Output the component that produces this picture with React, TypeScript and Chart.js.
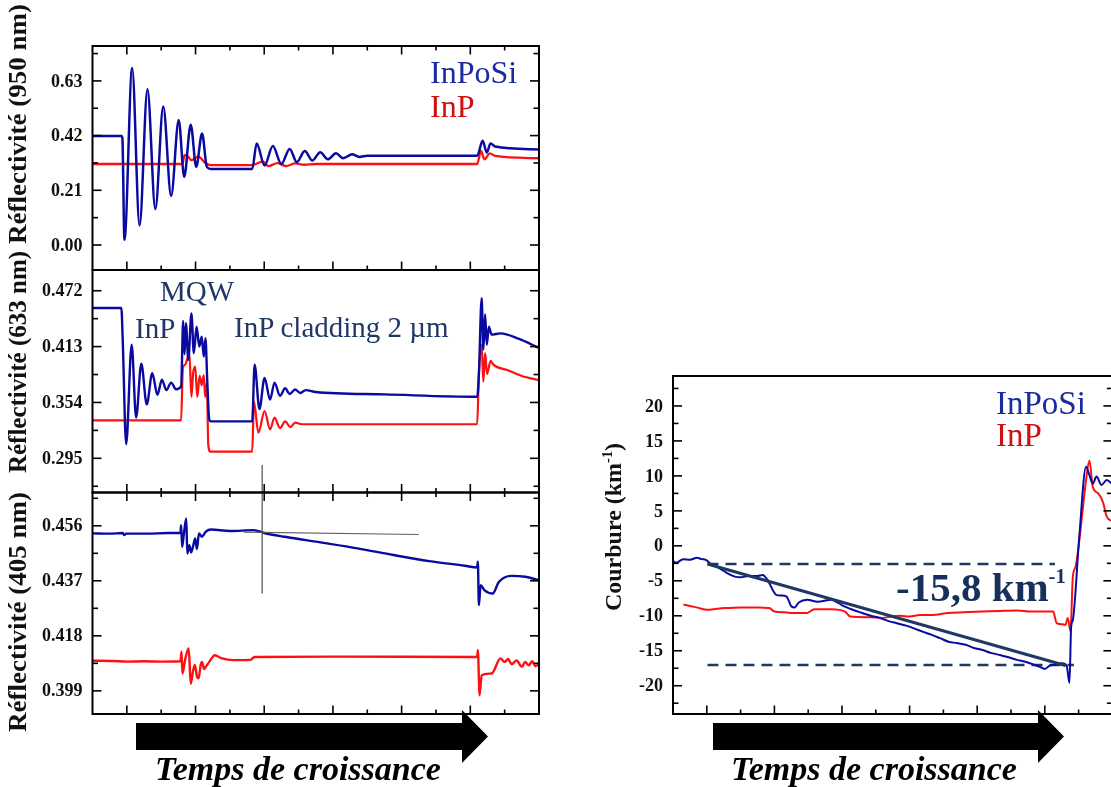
import React, { useEffect, useRef } from "react";
import { Chart, registerables } from "chart.js";

Chart.register(...registerables);

type Pt = [number, number];

// ---------- shared time axis (arbitrary growth-time units) ----------
const timeRange: Pt = [0, 13];
const timeMajorTicks = [1, 3, 5, 7, 9, 11];
const timeMinorTicks = [2, 4, 6, 8, 10, 12];

// ---------- panel 1 : reflectivity 950 nm ----------
const r950Range: Pt = [-0.096, 0.764];
const r950Ticks = [0, 0.21, 0.42, 0.63];
const r950TickLabels = ["0.00", "0.21", "0.42", "0.63"];
const r950Minor = [0.105, 0.315, 0.525, 0.735];
const r950InPoSi: Pt[] = [
  [0, 0.418], [0.84, 0.418], [0.87, 0.41], [0.93, 0.02], [1.155, 0.68], [1.37, 0.075],
  [1.6, 0.598], [1.83, 0.138], [2.06, 0.532], [2.29, 0.188], [2.51, 0.48], [2.67, 0.262],
  [2.86, 0.462], [3.02, 0.3], [3.19, 0.428], [3.33, 0.3], [3.45, 0.292], [4.65, 0.292],
  [4.78, 0.39], [5.01, 0.305], [5.25, 0.38], [5.5, 0.311], [5.74, 0.369], [5.95, 0.318],
  [6.18, 0.361], [6.4, 0.324], [6.63, 0.356], [6.85, 0.329], [7.09, 0.352], [7.3, 0.333],
  [7.56, 0.348], [7.77, 0.338], [8.0, 0.343], [11.2, 0.343], [11.36, 0.4], [11.48, 0.355],
  [11.59, 0.39], [11.72, 0.378], [13, 0.367],
];
const r950InP: Pt[] = [
  [0, 0.311], [2.62, 0.311], [2.68, 0.345], [2.76, 0.342], [2.88, 0.326], [3.08, 0.339],
  [3.3, 0.313], [3.45, 0.307], [4.65, 0.307], [4.96, 0.321], [5.12, 0.303], [5.38, 0.314],
  [5.64, 0.303], [5.9, 0.313], [6.16, 0.308], [6.5, 0.311], [11.2, 0.311], [11.31, 0.361],
  [11.41, 0.329], [11.57, 0.352], [11.72, 0.342], [13, 0.333],
];

// ---------- panel 2 : reflectivity 633 nm ----------
const r633Range: Pt = [0.2589, 0.4939];
const r633Ticks = [0.295, 0.354, 0.413, 0.472];
const r633TickLabels = ["0.295", "0.354", "0.413", "0.472"];
const r633Minor = [0.2655, 0.3245, 0.3835, 0.4425];
const r633InPoSi: Pt[] = [
  [0, 0.4537], [0.84, 0.4537], [0.88, 0.42], [0.98, 0.31], [1.14, 0.415], [1.27, 0.338],
  [1.42, 0.395], [1.58, 0.352], [1.74, 0.385], [1.89, 0.362], [2.02, 0.378], [2.15, 0.367],
  [2.29, 0.375], [2.43, 0.368], [2.58, 0.371], [2.64, 0.44], [2.68, 0.405], [2.72, 0.4377],
  [2.79, 0.399], [2.88, 0.448], [2.95, 0.406], [3.03, 0.434], [3.11, 0.413], [3.18, 0.4235],
  [3.24, 0.4025], [3.29, 0.422], [3.34, 0.378], [3.4, 0.3358], [3.45, 0.334], [4.65, 0.334],
  [4.72, 0.394], [4.86, 0.347], [5.01, 0.38], [5.17, 0.357], [5.3, 0.375], [5.46, 0.361],
  [5.61, 0.369], [5.74, 0.363], [5.9, 0.3677], [6.05, 0.364], [6.21, 0.367], [6.5, 0.365],
  [8.5, 0.3625], [11.2, 0.36], [11.25, 0.384], [11.33, 0.464], [11.38, 0.41], [11.43, 0.447],
  [11.48, 0.415], [11.54, 0.434], [11.62, 0.4256], [11.88, 0.427], [12.4, 0.4214], [13, 0.4116],
];
const r633InP: Pt[] = [
  [0, 0.335], [2.58, 0.335], [2.63, 0.39], [2.7, 0.394], [2.76, 0.4], [2.82, 0.406],
  [2.88, 0.36], [2.93, 0.385], [2.99, 0.392], [3.05, 0.36], [3.12, 0.382], [3.18, 0.372],
  [3.24, 0.383], [3.28, 0.36], [3.33, 0.375], [3.37, 0.31], [3.43, 0.302], [4.65, 0.302],
  [4.7, 0.355], [4.83, 0.322], [5.01, 0.345], [5.17, 0.3256], [5.3, 0.338], [5.46, 0.327],
  [5.61, 0.334], [5.76, 0.328], [5.9, 0.3326], [6.1, 0.331], [11.2, 0.331], [11.25, 0.384],
  [11.33, 0.415], [11.38, 0.376], [11.43, 0.406], [11.49, 0.384], [11.59, 0.398], [11.67, 0.394],
  [12.09, 0.388], [12.5, 0.382], [13, 0.3775],
];
const r633Guide: Pt[] = [[4.94, 0.288], [4.94, 0.2589]];

// ---------- panel 3 : reflectivity 405 nm ----------
const r405Range: Pt = [0.391, 0.4675];
const r405Ticks = [0.399, 0.418, 0.437, 0.456];
const r405TickLabels = ["0.399", "0.418", "0.437", "0.456"];
const r405Minor = [0.4085, 0.4275, 0.4465, 0.4655];
const r405InPoSi: Pt[] = [
  [0, 0.4534], [0.5, 0.4533], [0.88, 0.4535], [0.92, 0.4528], [0.98, 0.4533], [1.6, 0.4533],
  [2.2, 0.4535], [2.56, 0.4535], [2.58, 0.4562], [2.61, 0.4487], [2.66, 0.4532], [2.73, 0.4585],
  [2.76, 0.4464], [2.82, 0.4493], [2.87, 0.4468], [2.93, 0.449], [2.99, 0.4516], [3.04, 0.448],
  [3.1, 0.4534], [3.18, 0.4522], [3.3, 0.454], [3.45, 0.4547], [4.0, 0.4542], [4.7, 0.4545],
  [5.0, 0.4535], [5.6, 0.4522], [6.68, 0.4502], [7.72, 0.4482], [8.76, 0.4459], [9.8, 0.4438],
  [10.84, 0.4422], [11.2, 0.4416], [11.22, 0.4436], [11.25, 0.4286], [11.3, 0.4355],
  [11.41, 0.4338], [11.65, 0.4326], [11.83, 0.4366], [12.19, 0.4387], [12.6, 0.4384], [13, 0.4372],
];
const r405InP: Pt[] = [
  [0, 0.4094], [0.6, 0.4093], [1.0, 0.4091], [1.5, 0.4092], [2.0, 0.4091], [2.56, 0.4092],
  [2.59, 0.4125], [2.62, 0.405], [2.7, 0.41], [2.8, 0.4136], [2.86, 0.4015], [2.93, 0.406],
  [2.98, 0.4079], [3.04, 0.404], [3.09, 0.4033], [3.15, 0.408], [3.19, 0.409], [3.25, 0.4065],
  [3.3, 0.4073], [3.4, 0.409], [3.56, 0.4113], [3.77, 0.4102], [4.1, 0.4096], [4.6, 0.4097],
  [4.72, 0.4107], [7.0, 0.4108], [11.2, 0.4107], [11.22, 0.413], [11.27, 0.3975], [11.33, 0.4044],
  [11.62, 0.405], [11.88, 0.4102], [12.0, 0.409], [12.1, 0.41], [12.2, 0.4082], [12.35, 0.4095],
  [12.5, 0.4073], [12.6, 0.409], [12.7, 0.4078], [12.8, 0.4092], [12.9, 0.4075], [13, 0.4085],
];
const r405GuideV: Pt[] = [[4.94, 0.4675], [4.94, 0.4326]];
const r405GuideH: Pt[] = [[4.4, 0.4538], [9.5, 0.453]];

// ---------- right panel : curvature ----------
const courbRange: Pt = [-24.04, 24.28];
const courbTicks = [-20, -15, -10, -5, 0, 5, 10, 15, 20];
const courbTickLabels = ["-20", "-15", "-10", "-5", "0", "5", "10", "15", "20"];
const courbMinor = [-22.5, -17.5, -12.5, -7.5, -2.5, 2.5, 7.5, 12.5, 17.5, 22.5];
const courbInPoSi: Pt[] = [
  [0, -2.2], [0.1, -2.4], [0.3, -1.9], [0.5, -2.0], [0.71, -1.7], [0.85, -1.9], [0.97, -2.0],
  [1.12, -2.6], [1.3, -3.0], [1.43, -3.35], [1.6, -3.9], [1.83, -4.4], [2.0, -4.5], [2.24, -4.3],
  [2.5, -4.3], [2.65, -4.16], [2.8, -4.9], [2.95, -6.3], [3.05, -7.0], [3.2, -7.1], [3.36, -7.25],
  [3.51, -8.7], [3.6, -8.8], [3.72, -8.1], [3.97, -7.7], [4.28, -8.0], [4.68, -7.7], [4.9, -8.2],
  [5.09, -8.7], [5.35, -9.2], [5.6, -9.6], [5.85, -10.0], [6.11, -10.3], [6.4, -10.8],
  [6.62, -11.06], [6.9, -11.4], [7.13, -11.8], [7.4, -12.3], [7.64, -12.7], [7.9, -13.2],
  [8.15, -13.7], [8.4, -13.9], [8.66, -14.15], [8.9, -14.6], [9.16, -14.9], [9.4, -15.3],
  [9.67, -15.6], [9.9, -15.9], [10.18, -16.3], [10.45, -16.6], [10.69, -17.0], [10.85, -17.3],
  [11.0, -17.6], [11.15, -17.1], [11.3, -17.0], [11.51, -16.8], [11.65, -17.2], [11.73, -19.6],
  [11.78, -11.5], [11.83, -10.6], [12.02, 1.3], [12.22, 11.3], [12.32, 10.1], [12.42, 8.9],
  [12.53, 9.9], [12.68, 8.7], [12.83, 9.4], [13, 8.8],
];
const courbInP: Pt[] = [
  [0.31, -8.4], [0.5, -8.6], [0.7, -8.8], [1.02, -9.15], [1.3, -9.0], [1.53, -8.9], [2.04, -8.8],
  [2.5, -8.8], [2.85, -8.9], [3.0, -9.4], [3.3, -9.5], [3.56, -9.6], [3.97, -9.6], [4.18, -9.05],
  [4.68, -9.05], [5.09, -9.4], [5.24, -10.1], [5.8, -10.2], [6.21, -10.3], [6.45, -10.1],
  [6.72, -10.0], [7.0, -10.1], [7.3, -9.9], [7.64, -9.9], [8.15, -9.6], [8.6, -9.5], [9.16, -9.4],
  [9.7, -9.3], [10.18, -9.25], [10.6, -9.4], [11.0, -9.4], [11.25, -9.4], [11.35, -11.06],
  [11.5, -11.2], [11.61, -11.3], [11.68, -10.3], [11.76, -12.2], [11.83, -4.4], [11.91, -3.0],
  [12.0, -0.1], [12.12, 5.1], [12.22, 9.4], [12.32, 12.2], [12.42, 8.4], [12.58, 7.5],
  [12.73, 6.1], [12.83, 4.2], [13, 3.5],
];
const courbFit: Pt[] = [[1.02, -2.6], [11.61, -17.1]];
const courbLevelTop: Pt[] = [[1.02, -2.6], [11.3, -2.6]];
const courbLevelBottom: Pt[] = [[1.02, -17.05], [11.86, -17.05]];

// ---------- styling ----------
const W = 1120;
const H = 787;
const BLUE = "#0a0aa0";
const RED = "#ff1010";
const NAVY = "#1f3864";
const FONT = '"Liberation Serif", "Times New Roman", serif';

const toXY = (pts: Pt[]) => pts.map(([x, y]) => ({ x, y }));
const line = (pts: Pt[], color: string, width: number, extra: any = {}) => ({
  data: toXY(pts),
  borderColor: color,
  backgroundColor: color,
  borderWidth: width,
  pointRadius: 0,
  fill: false,
  cubicInterpolationMode: "monotone",
  ...extra,
});

type Spec = {
  area: { left: number; top: number; right: number; bottom: number };
  yRange: Pt;
  yMajor: number[];
  yLabels: string[];
  yMinor: number[];
  topTicks: boolean;
  datasets: any[];
};

function makeFrame(s: Spec) {
  return {
    id: "frame",
    afterDatasetsDraw(chart: any) {
      const { ctx, chartArea: a } = chart;
      const xs = chart.scales.x;
      const ys = chart.scales.y;
      ctx.save();
      ctx.strokeStyle = "#000";
      ctx.lineWidth = 1.6;
      const seg = (x1: number, y1: number, x2: number, y2: number) => {
        ctx.beginPath();
        ctx.moveTo(x1, y1);
        ctx.lineTo(x2, y2);
        ctx.stroke();
      };
      const xt: [number[], number][] = [[timeMajorTicks, 8.5], [timeMinorTicks, 4.5]];
      for (const [vals, len] of xt) {
        for (const v of vals) {
          const p = xs.getPixelForValue(v);
          seg(p, a.bottom, p, a.bottom - len);
          if (s.topTicks) seg(p, a.top, p, a.top + len);
        }
      }
      const yt: [number[], number][] = [[s.yMajor, 9], [s.yMinor, 5.5]];
      for (const [vals, len] of yt) {
        for (const v of vals) {
          const p = ys.getPixelForValue(v);
          seg(a.left, p, a.left + len, p);
          seg(a.right, p, a.right - len, p);
        }
      }
      ctx.lineWidth = 2;
      ctx.strokeRect(a.left, a.top, a.right - a.left, a.bottom - a.top);
      ctx.fillStyle = "#111";
      ctx.font = `bold 18px ${FONT}`;
      ctx.textAlign = "right";
      ctx.textBaseline = "middle";
      s.yMajor.forEach((v, i) => ctx.fillText(s.yLabels[i], a.left - 10, ys.getPixelForValue(v) + 1));
      ctx.restore();
    },
  };
}

function makeConfig(s: Spec): any {
  return {
    type: "line",
    data: { datasets: s.datasets },
    options: {
      animation: false,
      responsive: false,
      devicePixelRatio: 1,
      events: [],
      layout: {
        padding: { left: s.area.left, top: s.area.top, right: W - s.area.right, bottom: H - s.area.bottom },
      },
      plugins: { legend: { display: false }, tooltip: { enabled: false }, title: { display: false } },
      scales: {
        x: { type: "linear", min: timeRange[0], max: timeRange[1], display: false },
        y: { type: "linear", min: s.yRange[0], max: s.yRange[1], display: false },
      },
    },
    plugins: [makeFrame(s)],
  };
}

const GRAY = { cubicInterpolationMode: "default", tension: 0 };

const specs: Spec[] = [
  {
    area: { left: 92.5, top: 46, right: 539, bottom: 270 },
    yRange: r950Range, yMajor: r950Ticks, yLabels: r950TickLabels, yMinor: r950Minor, topTicks: true,
    datasets: [line(r950InPoSi, BLUE, 2.5), line(r950InP, RED, 2.3)],
  },
  {
    area: { left: 92.5, top: 270, right: 539, bottom: 492.5 },
    yRange: r633Range, yMajor: r633Ticks, yLabels: r633TickLabels, yMinor: r633Minor, topTicks: false,
    datasets: [line(r633InPoSi, BLUE, 2.4), line(r633InP, RED, 2.2), line(r633Guide, "#505050", 1.2, GRAY)],
  },
  {
    area: { left: 92.5, top: 492.5, right: 539, bottom: 714 },
    yRange: r405Range, yMajor: r405Ticks, yLabels: r405TickLabels, yMinor: r405Minor, topTicks: true,
    datasets: [
      line(r405GuideV, "#505050", 1.2, GRAY),
      line(r405GuideH, "#606060", 1.2, GRAY),
      line(r405InPoSi, BLUE, 2.4),
      line(r405InP, RED, 2.4),
    ],
  },
  {
    area: { left: 673, top: 376, right: 1112.4, bottom: 714 },
    yRange: courbRange, yMajor: courbTicks, yLabels: courbTickLabels, yMinor: courbMinor, topTicks: false,
    datasets: [
      line(courbFit, NAVY, 3, { cubicInterpolationMode: "default", tension: 0 }),
      line(courbInPoSi, BLUE, 2),
      line(courbInP, RED, 2),
      line(courbLevelTop, NAVY, 2.5, { cubicInterpolationMode: "default", tension: 0, borderDash: [11, 7] }),
      line(courbLevelBottom, NAVY, 2.5, { cubicInterpolationMode: "default", tension: 0, borderDash: [11, 7] }),
    ],
  },
];

function Panel({ spec }: { spec: Spec }) {
  const ref = useRef<HTMLCanvasElement>(null);
  useEffect(() => {
    const chart = new Chart(ref.current as HTMLCanvasElement, makeConfig(spec));
    return () => chart.destroy();
  }, [spec]);
  return (
    <canvas
      ref={ref}
      width={W}
      height={H}
      style={{ position: "absolute", left: 0, top: 0, width: W, height: H }}
    />
  );
}

function Txt({ x, y, size, color, children, weight = "normal", italic = false, center = false }: any) {
  return (
    <div
      style={{
        position: "absolute",
        left: x,
        top: y,
        transform: center ? "translateX(-50%)" : undefined,
        fontFamily: FONT,
        fontSize: size,
        lineHeight: 1,
        fontWeight: weight,
        fontStyle: italic ? "italic" : "normal",
        color,
        whiteSpace: "nowrap",
      }}
    >
      {children}
    </div>
  );
}

function VTitle({ cx, cy, size, stretch = 1, children }: any) {
  return (
    <div
      style={{
        position: "absolute",
        left: cx,
        top: cy,
        transform: `translate(-50%, -50%) rotate(-90deg) scaleX(${stretch})`,
        fontFamily: FONT,
        fontSize: size,
        lineHeight: 1,
        fontWeight: "bold",
        color: "#111",
        whiteSpace: "nowrap",
      }}
    >
      {children}
    </div>
  );
}

export default function App() {
  return (
    <div
      style={{
        position: "fixed",
        left: 0,
        top: 0,
        width: 1111,
        height: 787,
        overflow: "hidden",
        background: "#fff",
      }}
    >
      {specs.map((s, i) => (
        <Panel key={i} spec={s} />
      ))}
      <svg width={1111} height={787} style={{ position: "absolute", left: 0, top: 0 }}>
        <polygon points="136,723 462,723 462,710 488,736.5 462,763 462,750 136,750" fill="#000" />
        <polygon points="713,723 1038,723 1038,710 1064,736.5 1038,763 1038,750 713,750" fill="#000" />
      </svg>

      <VTitle cx={17} cy={124} size={25} stretch={1.08}>Réflectivité (950 nm)</VTitle>
      <VTitle cx={17} cy={362} size={25} stretch={1.0}>Réflectivité (633 nm)</VTitle>
      <VTitle cx={17} cy={612} size={25} stretch={1.08}>Réflectivité (405 nm)</VTitle>
      <VTitle cx={612} cy={527} size={24}>
        Courbure (km<sup style={{ fontSize: "0.6em" }}>-1</sup>)
      </VTitle>

      <Txt x={430} y={56} size={32} color="#1a2aa0">InPoSi</Txt>
      <Txt x={430} y={90} size={32} color="#d01010">InP</Txt>
      <Txt x={996} y={387} size={33} color="#1a2aa0">InPoSi</Txt>
      <Txt x={996} y={419} size={33} color="#d01010">InP</Txt>

      <Txt x={160} y={277} size={29} color={NAVY}>MQW</Txt>
      <Txt x={135} y={314} size={29} color={NAVY}>InP</Txt>
      <Txt x={234} y={313} size={29} color={NAVY}>InP cladding 2 µm</Txt>

      <Txt x={896} y={567} size={41} color="#182f5c" weight="bold">
        -15,8 km<sup style={{ fontSize: "0.5em", verticalAlign: "0.9em", lineHeight: 0 }}>-1</sup>
      </Txt>

      <Txt x={298} y={752} size={34} color="#000" weight="bold" italic center>Temps de croissance</Txt>
      <Txt x={874} y={752} size={34} color="#000" weight="bold" italic center>Temps de croissance</Txt>
    </div>
  );
}
